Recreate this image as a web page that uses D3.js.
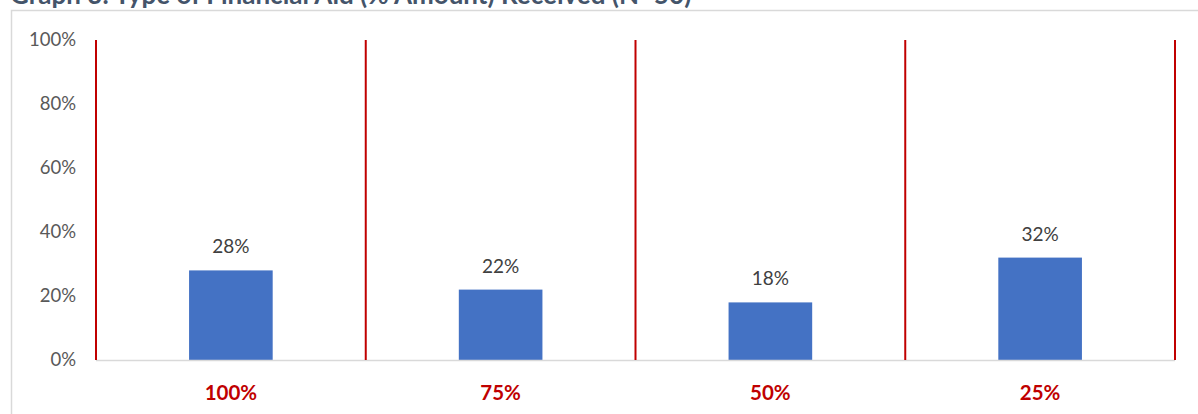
<!DOCTYPE html>
<html>
<head>
<meta charset="utf-8">
<script src="https://cdn.jsdelivr.net/npm/d3@7"></script>
<style>
  body { margin: 0; background: white; }
</style>
</head>
<body>
<div id="vis"></div>
<script>
var width = 1198;
var height = 414;

var categories = ["100%", "75%", "50%", "25%"];
var values = [28, 22, 18, 32];
var yTicks = [0, 20, 40, 60, 80, 100];
var title = "Graph 3: Type of Financial Aid (% Amount) Received (N=50)";

var font = "Lato, 'Open Sans', sans-serif";
var plot = { left: 96, right: 1175, top: 40, bottom: 360 };

var svg = d3.select("#vis")
  .append("svg")
  .attr("width", width)
  .attr("height", height)
  .style("font-family", font);

// chart frame
svg.append("path")
  .attr("d", `M11.5,${height} L11.5,10.5 L${width},10.5`)
  .attr("fill", "none")
  .attr("stroke", "#d9d9d9")
  .attr("stroke-width", 1.5);

// title (cut off at the top)
svg.append("text")
  .attr("x", 10)
  .attr("y", 4)
  .attr("fill", "#44546A")
  .attr("font-weight", "bold")
  .attr("font-size", 26)
  .text(title);

var xScale = d3.scaleBand()
  .domain(categories)
  .range([plot.left, plot.right])
  .paddingInner(0.69)
  .paddingOuter(0.345);

var bandScale = d3.scaleBand()
  .domain(categories)
  .range([plot.left, plot.right]);

var yScale = d3.scaleLinear()
  .domain([0, 100])
  .range([plot.bottom, plot.top]);

// y axis labels
var yAxis = d3.axisLeft(yScale)
  .tickValues(yTicks)
  .tickFormat(d => d + "%")
  .tickSize(0)
  .tickPadding(20);

var yg = svg.append("g")
  .attr("transform", `translate(${plot.left}, 0)`)
  .call(yAxis);
yg.select(".domain").remove();
yg.selectAll("text")
  .attr("fill", "#595959")
  .attr("font-size", 18.5)
  .attr("font-family", font);

// bars
svg.selectAll(".bar")
  .data(values)
  .join("rect")
  .attr("class", "bar")
  .attr("x", (d, i) => xScale(categories[i]))
  .attr("width", xScale.bandwidth())
  .attr("y", d => yScale(d))
  .attr("height", d => yScale(0) - yScale(d))
  .attr("fill", "#4472C4");

// value labels
svg.selectAll(".val")
  .data(values)
  .join("text")
  .attr("class", "val")
  .attr("x", (d, i) => xScale(categories[i]) + xScale.bandwidth() / 2)
  .attr("y", d => yScale(d) - 17)
  .attr("text-anchor", "middle")
  .attr("fill", "#404040")
  .attr("font-size", 19)
  .text(d => d + "%");

// x axis line
svg.append("line")
  .attr("x1", plot.left)
  .attr("x2", plot.right)
  .attr("y1", plot.bottom + 0.5)
  .attr("y2", plot.bottom + 0.5)
  .attr("stroke", "#d9d9d9")
  .attr("stroke-width", 1.5);

// red separators between categories
var seps = categories.map(c => bandScale(c)).concat([plot.right]);
svg.selectAll(".sep")
  .data(seps)
  .join("line")
  .attr("class", "sep")
  .attr("x1", d => d)
  .attr("x2", d => d)
  .attr("y1", plot.top)
  .attr("y2", plot.bottom)
  .attr("stroke", "#C00000")
  .attr("stroke-width", 2);

// category labels
svg.selectAll(".cat")
  .data(categories)
  .join("text")
  .attr("class", "cat")
  .attr("x", d => bandScale(d) + bandScale.bandwidth() / 2)
  .attr("y", 400)
  .attr("text-anchor", "middle")
  .attr("fill", "#C00000")
  .attr("font-weight", "bold")
  .attr("font-size", 20.5)
  .text(d => d);
</script>
</body>
</html>
